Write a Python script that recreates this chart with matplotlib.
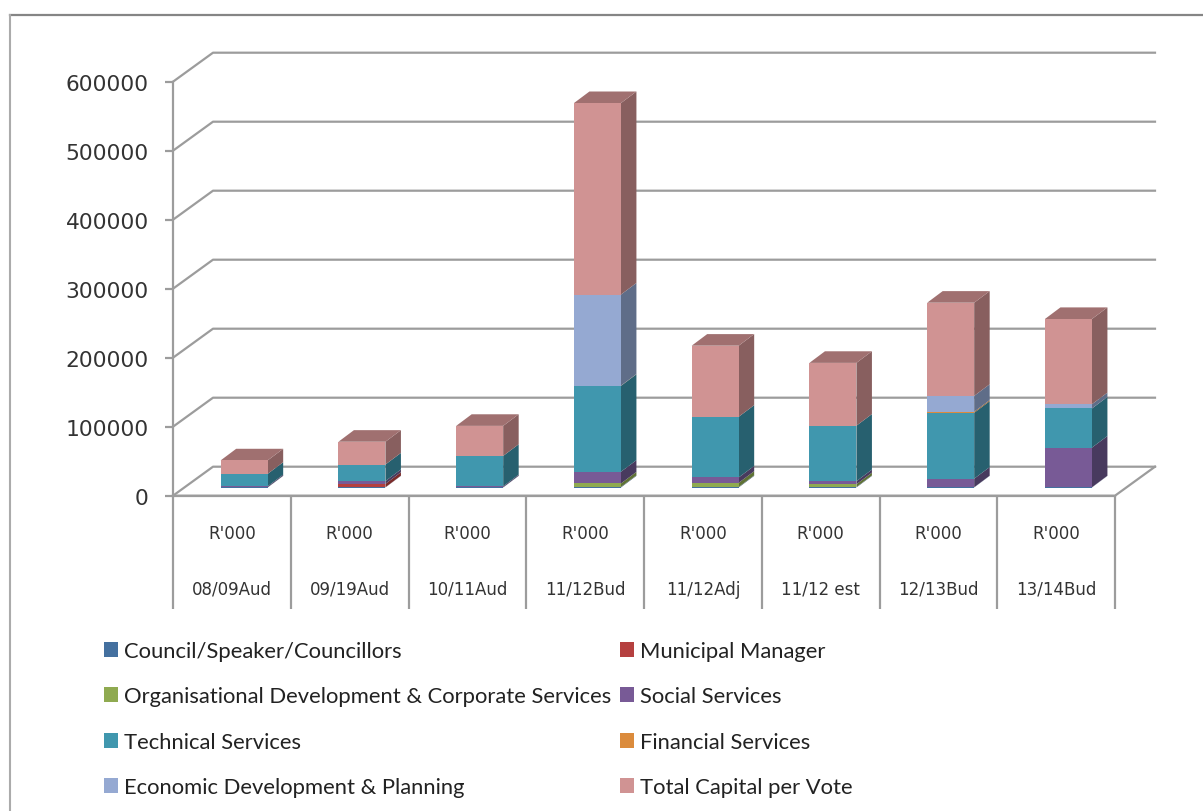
import matplotlib
matplotlib.use('Agg')
import matplotlib.pyplot as plt
from matplotlib.patches import Polygon
import numpy as np

# --- data ---
categories = ["08/09Aud", "09/19Aud", "10/11Aud", "11/12Bud", "11/12Adj", "11/12 est", "12/13Bud", "13/14Bud"]
unit_labels = ["R'000"] * 8
y_ticks = [0, 100000, 200000, 300000, 400000, 500000, 600000]

council = [300, 300, 300, 800, 800, 700, 300, 300]
municipal_manager = [0, 5000, 0, 0, 0, 0, 0, 0]
org_dev = [0, 0, 0, 5000, 6000, 4000, 0, 0]
social = [1500, 4000, 1500, 17000, 7700, 4400, 12500, 57500]
technical = [18000, 24000, 44000, 124500, 88000, 80500, 95500, 56700]
financial = [0, 0, 0, 300, 0, 0, 1500, 0]
economic = [0, 0, 0, 132000, 0, 0, 23000, 6200]
total_capital = [19500, 33000, 43500, 277500, 103000, 91000, 135000, 123500]

series = [
    ("Council/Speaker/Councillors", council, "#44709F", "#2C4A6C", "#37587E"),
    ("Municipal Manager", municipal_manager, "#B5403F", "#7A2B2A", "#8F3332"),
    ("Organisational Development & Corporate Services", org_dev, "#8FAA50", "#5F7235", "#728840"),
    ("Social Services", social, "#785A96", "#483A5E", "#5F4878"),
    ("Technical Services", technical, "#4097AE", "#27606F", "#33788B"),
    ("Financial Services", financial, "#DB8B3C", "#945E28", "#B07030"),
    ("Economic Development & Planning", economic, "#95A9D2", "#5F6D88", "#7787A8"),
    ("Total Capital per Vote", total_capital, "#D09393", "#885F5F", "#A07070"),
]

# pixel geometry of the fake 3D chart
W, H = 1203, 812
left, right, top, bottom = 173, 1115, 82.7, 496.7
px_x = (right - left) / 8
px_y = (bottom - top) / 600000
wall_dx, wall_dy = 40 / px_x, 29 / px_y
bar_off_x, bar_off_y = 12.3 / px_x, 8.2 / px_y
bar_w = 47 / px_x
bar_dx, bar_dy = 15.5 / px_x, 11.6 / px_y
grey = "#9C9C9C"

fig = plt.figure(figsize=(W / 100, H / 100), dpi=100)
ax = fig.add_axes([left / W, 1 - bottom / H, (right - left) / W, (bottom - top) / H])
ax.set_xlim(0, 8)
ax.set_ylim(0, 600000)
ax.patch.set_visible(False)

# outer frame of the screenshot, only top and left show
fig.add_artist(plt.Line2D([0.0085, 1], [1 - 15.5 / H, 1 - 15.5 / H], color="#858585", lw=1.6))
fig.add_artist(plt.Line2D([0.0085, 0.0085], [0, 1 - 15.5 / H], color="#ABABAB", lw=1.5))

# walls, gridlines and floor
for v in y_ticks:
    ax.plot([0, wall_dx, 8 + wall_dx], [v, v + wall_dy, v + wall_dy], color=grey, lw=1.6, clip_on=False, zorder=1)
ax.plot([8 + wall_dx, 8, 0], [wall_dy, 0, 0], color=grey, lw=1.6, clip_on=False, zorder=1)

# stacked bars, front face with side and top faces
x = np.arange(8) + 0.5 + bar_off_x
bottoms = np.zeros(8)
for name, vals, front, side_c, top_c in series:
    vals = np.array(vals, dtype=float)
    ax.bar(x, vals, bar_w, bottom=bottoms + bar_off_y, color=front, label=name, clip_on=False, zorder=3, linewidth=0)
    for i in range(8):
        if vals[i] <= 0:
            continue
        x1 = x[i] + bar_w / 2
        y0 = bottoms[i] + bar_off_y
        y1 = y0 + vals[i]
        ax.add_patch(Polygon([(x1, y0), (x1 + bar_dx, y0 + bar_dy), (x1 + bar_dx, y1 + bar_dy), (x1, y1)],
                             closed=True, fc=side_c, ec="none", clip_on=False, zorder=2.5))
    bottoms = bottoms + vals

# top cap uses the colour of the last series
for i in range(8):
    x0 = x[i] - bar_w / 2
    x1 = x[i] + bar_w / 2
    y1 = bottoms[i] + bar_off_y
    ax.add_patch(Polygon([(x0, y1), (x1, y1), (x1 + bar_dx, y1 + bar_dy), (x0 + bar_dx, y1 + bar_dy)],
                         closed=True, fc=series[-1][4], ec="none", clip_on=False, zorder=2.5))

# axis styling
for s in ["top", "right"]:
    ax.spines[s].set_visible(False)
ax.spines["left"].set_color(grey)
ax.spines["left"].set_linewidth(1.6)
ax.spines["bottom"].set_color(grey)
ax.spines["bottom"].set_linewidth(1.6)
ax.set_yticks(y_ticks)
ax.set_yticklabels([str(v) for v in y_ticks], fontsize=15.7, color="#333333", family="DejaVu Sans")
ax.tick_params(axis="y", length=6, width=1.6, color=grey, pad=11.5)

# category table below the axis
ax.set_xticks(np.arange(9))
ax.set_xticklabels([])
ax.tick_params(axis="x", length=81, width=1.6, color=grey)
for i in range(8):
    ax.annotate(unit_labels[i], (i + 0.5, 0), xytext=(0, -42.5 * 0.72), textcoords="offset points",
                ha="center", va="baseline", fontsize=12, color="#333333")
    ax.annotate(categories[i], (i + 0.5, 0), xytext=(0, -98 * 0.72), textcoords="offset points",
                ha="center", va="baseline", fontsize=12, color="#333333")

# legend, matplotlib fills columns first so reorder to read across rows
handles, labels = ax.get_legend_handles_labels()
order = [0, 2, 4, 6, 1, 3, 5, 7]
leg = ax.legend([handles[i] for i in order], [labels[i] for i in order], ncol=2, frameon=False,
                prop={"family": "Lato", "size": 15.8}, loc="upper left",
                bbox_to_anchor=(104 / W, 1 - 642 / H), bbox_transform=fig.transFigure,
                handlelength=0.65, handleheight=0.65, handletextpad=0.26, columnspacing=0.41,
                labelspacing=1.16, borderpad=0, borderaxespad=0)
for t in leg.get_texts():
    t.set_color("#222222")

fig.savefig("out.png", dpi=100)
